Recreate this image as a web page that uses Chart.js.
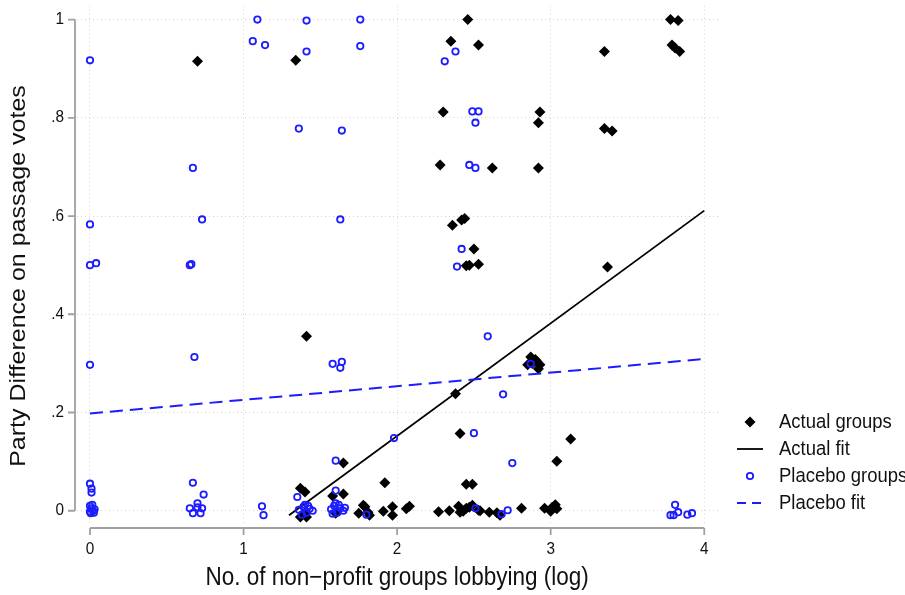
<!DOCTYPE html>
<html>
<head>
<meta charset="utf-8">
<script src="https://cdn.jsdelivr.net/npm/chart.js@4"></script>
<style>
  html, body { margin: 0; padding: 0; background: #fff; }
  #chart { display: block; }
</style>
</head>
<body>
<canvas id="chart" width="905" height="595"></canvas>
<script>
// Actual groups (black diamonds)
const actualX = [0.70, 1.34, 2.46, 2.35, 2.53, 3.35, 3.78, 3.83, 3.79, 3.81, 3.84,
  2.30, 2.93, 2.92, 2.28, 2.62, 2.92, 3.35, 3.40,
  2.36, 2.42, 2.44, 2.50, 2.45, 2.47, 2.53, 3.37,
  2.87, 2.88, 2.91, 2.93, 2.85, 2.92, 2.90,
  1.41, 2.38, 2.41, 3.13, 3.04, 1.92, 2.45, 2.49,
  1.37, 1.40, 1.65, 1.58, 1.65,
  1.37, 1.41, 1.40, 1.60, 1.75, 1.78, 1.82, 1.79, 1.81, 1.91, 1.97, 1.97, 2.06, 2.08,
  2.27, 2.34, 2.40, 2.43, 2.45, 2.41, 2.47, 2.49, 2.53, 2.54, 2.60, 2.65, 2.67,
  2.81, 2.96, 3.01, 3.03, 3.04, 3.00];
const actualY = [0.915, 0.917, 1.000, 0.956, 0.948, 0.935, 1.000, 0.998, 0.948, 0.942, 0.935,
  0.812, 0.812, 0.790, 0.704, 0.698, 0.698, 0.778, 0.773,
  0.581, 0.592, 0.595, 0.533, 0.499, 0.500, 0.502, 0.496,
  0.313, 0.300, 0.304, 0.297, 0.297, 0.289, 0.308,
  0.355, 0.238, 0.157, 0.146, 0.101, 0.057, 0.054, 0.054,
  0.046, 0.038, 0.097, 0.030, 0.034,
  -0.013, -0.013, -0.004, -0.005, -0.005, 0.011, -0.009, 0.008, -0.003, -0.001, 0.008, -0.009, 0.004, 0.009,
  -0.002, 0.000, 0.009, -0.001, 0.005, -0.003, 0.007, 0.011, 0.001, 0.000, -0.003, -0.004, -0.009,
  0.005, 0.005, 0.007, 0.012, 0.004, -0.001];

// Placebo groups (blue hollow circles)
const placeboX = [1.09, 1.41, 1.76, 1.06, 1.14, 1.41, 1.76, 0.00, 1.36, 1.64, 0.67,
  2.38, 2.31, 2.49, 2.53, 2.51, 2.47, 2.51,
  0.00, 0.73, 1.63, 0.00, 0.04, 0.65, 0.66, 0.00, 0.68, 1.58, 1.64, 1.63,
  2.42, 2.39, 2.59, 2.87, 2.69, 2.50, 2.75, 1.98,
  1.80, 2.51, 2.68, 2.72, 3.78, 3.81, 3.83, 3.80, 3.89, 3.92,
  0.00, 0.01, 0.01, 0.67, 0.74, 0.65, 0.70, 0.73, 0.67, 0.72, 0.70,
  1.12, 1.13, 1.60, 1.35, 1.60,
  0.00, 0.01, 0.02, 0.005, 0.03, 0.015, 0.025, 0.00,
  1.36, 1.39, 1.41, 1.43, 1.45, 1.40, 1.38, 1.42,
  1.57, 1.59, 1.61, 1.63, 1.65, 1.60, 1.58, 1.62, 1.66];
const placeboY = [1.000, 0.998, 1.000, 0.956, 0.948, 0.935, 0.946, 0.917, 0.778, 0.774, 0.698,
  0.935, 0.915, 0.813, 0.813, 0.790, 0.704, 0.698,
  0.583, 0.593, 0.593, 0.500, 0.504, 0.500, 0.502, 0.297, 0.313, 0.299, 0.303, 0.291,
  0.533, 0.497, 0.355, 0.299, 0.237, 0.158, 0.097, 0.148,
  -0.008, 0.005, -0.007, 0.001, -0.009, 0.012, -0.003, -0.009, -0.008, -0.005,
  0.055, 0.045, 0.037, 0.057, 0.033, 0.005, 0.007, 0.005, -0.005, -0.005, 0.015,
  0.009, -0.009, 0.102, 0.028, 0.041,
  0.010, 0.005, 0.000, -0.005, 0.003, 0.012, -0.004, -0.002,
  0.002, 0.008, -0.004, 0.004, 0.000, 0.012, -0.008, 0.010,
  0.003, 0.010, -0.004, 0.005, 0.000, 0.015, -0.006, 0.012, 0.006];

// Linear fit end points
const actualFitX = [1.296, 4.0];
const actualFitY = [-0.009, 0.611];
const placeboFitX = [0.0, 4.0];
const placeboFitY = [0.198, 0.309];

const xTicks = [0, 1, 2, 3, 4];
const xTickLabels = ['0', '1', '2', '3', '4'];
const yTicks = [0, 0.2, 0.4, 0.6, 0.8, 1];
const yTickLabels = ['0', '.2', '.4', '.6', '.8', '1'];

const xTitle = 'No. of non\u2212profit groups lobbying (log)';
const yTitle = 'Party Difference on passage votes';
const legendLabels = ['Actual groups', 'Actual fit', 'Placebo groups', 'Placebo fit'];

const BLUE = '#1c1cff';
const FONT = '"Liberation Sans", Arial, Helvetica, sans-serif';
const SQUEEZE = 0.9; // the source picture is a bit narrower than tall

function zip(xs, ys) {
    return xs.map((x, i) => ({ x: x, y: ys[i] }));
}

function squeezedText(c, text, x, y, align) {
    c.save();
    c.translate(x, y);
    c.scale(SQUEEZE, 1);
    c.textAlign = align;
    c.fillText(text, 0, 0);
    c.restore();
}

// Stata style axes: lines offset from the plot region, only spanning the tick range
const stataAxes = {
    id: 'stataAxes',
    afterDraw(chart) {
        const c = chart.ctx;
        const xs = chart.scales.x, ys = chart.scales.y;
        const area = chart.chartArea;
        c.save();
        c.strokeStyle = '#a0a0a0';
        c.lineWidth = 1.8;
        // y axis
        const ax = area.left - 2;
        c.beginPath();
        c.moveTo(ax, ys.getPixelForValue(0));
        c.lineTo(ax, ys.getPixelForValue(1));
        yTicks.forEach(v => {
            const p = ys.getPixelForValue(v);
            c.moveTo(ax, p);
            c.lineTo(ax - 7, p);
        });
        c.stroke();
        // x axis
        const ay = area.bottom + 4;
        c.beginPath();
        c.moveTo(xs.getPixelForValue(0), ay);
        c.lineTo(xs.getPixelForValue(4), ay);
        xTicks.forEach(v => {
            const p = xs.getPixelForValue(v);
            c.moveTo(p, ay);
            c.lineTo(p, ay + 7);
        });
        c.stroke();

        // tick labels
        c.fillStyle = '#111';
        c.textBaseline = 'middle';
        c.font = '17px ' + FONT;
        yTicks.forEach((v, i) => squeezedText(c, yTickLabels[i], ax - 11, ys.getPixelForValue(v), 'right'));
        xTicks.forEach((v, i) => squeezedText(c, xTickLabels[i], xs.getPixelForValue(v), ay + 21, 'center'));

        // axis titles
        c.font = '25px ' + FONT;
        squeezedText(c, xTitle, (xs.getPixelForValue(0) + xs.getPixelForValue(4)) / 2, 578, 'center');
        c.save();
        c.translate(19, 276);
        c.rotate(-Math.PI / 2);
        c.scale(1, SQUEEZE);
        c.textAlign = 'center';
        c.fillText(yTitle, 0, 0);
        c.restore();

        // legend
        const lx = 750, tx = 779;
        const rows = [422, 449, 476, 503];
        c.font = '20.5px ' + FONT;
        legendLabels.forEach((t, i) => squeezedText(c, t, tx, rows[i], 'left'));
        // diamond
        c.fillStyle = '#000';
        c.beginPath();
        c.moveTo(lx, rows[0] - 5.5);
        c.lineTo(lx + 5.5, rows[0]);
        c.lineTo(lx, rows[0] + 5.5);
        c.lineTo(lx - 5.5, rows[0]);
        c.closePath();
        c.fill();
        // solid line
        c.strokeStyle = '#000';
        c.lineWidth = 1.8;
        c.beginPath();
        c.moveTo(737, rows[1]);
        c.lineTo(763, rows[1]);
        c.stroke();
        // circle
        c.strokeStyle = BLUE;
        c.lineWidth = 1.8;
        c.beginPath();
        c.arc(lx, rows[2], 3.2, 0, Math.PI * 2);
        c.stroke();
        // dashed line
        c.lineWidth = 2;
        c.setLineDash([9, 6]);
        c.beginPath();
        c.moveTo(737, rows[3]);
        c.lineTo(765, rows[3]);
        c.stroke();
        c.restore();
    }
};

const ctx = document.getElementById('chart').getContext('2d');
const chart = new Chart(ctx, {
    type: 'scatter',
    data: {
        datasets: [{
            label: legendLabels[0],
            data: zip(actualX, actualY),
            pointStyle: 'rectRot',
            pointRadius: 5.5,
            backgroundColor: '#000',
            borderColor: '#000',
            borderWidth: 0,
            order: 4
        }, {
            label: legendLabels[1],
            type: 'line',
            data: zip(actualFitX, actualFitY),
            borderColor: '#000',
            borderWidth: 1.8,
            pointRadius: 0,
            fill: false,
            order: 3
        }, {
            label: legendLabels[2],
            data: zip(placeboX, placeboY),
            pointStyle: 'circle',
            pointRadius: 3.2,
            backgroundColor: 'rgba(0,0,0,0)',
            borderColor: BLUE,
            borderWidth: 1.8,
            order: 2
        }, {
            label: legendLabels[3],
            type: 'line',
            data: zip(placeboFitX, placeboFitY),
            borderColor: BLUE,
            borderWidth: 2,
            borderDash: [13, 7],
            pointRadius: 0,
            fill: false,
            order: 1
        }]
    },
    options: {
        responsive: false,
        animation: false,
        layout: { padding: { left: 0, right: 184, top: 0, bottom: 0 } },
        plugins: {
            legend: { display: false },
            tooltip: { enabled: false }
        },
        scales: {
            x: {
                type: 'linear',
                min: -0.0846,
                max: 4.109,
                afterBuildTicks: s => { s.ticks = xTicks.map(v => ({ value: v })); },
                afterFit: s => { s.height = 71; },
                grid: { color: '#d4d4d4', lineWidth: 1, drawTicks: false },
                border: { display: false, dash: [1, 3] },
                ticks: { display: false }
            },
            y: {
                type: 'linear',
                min: -0.027,
                max: 1.028,
                afterBuildTicks: s => { s.ticks = yTicks.map(v => ({ value: v })); },
                afterFit: s => { s.width = 77; },
                grid: { color: '#d4d4d4', lineWidth: 1, drawTicks: false },
                border: { display: false, dash: [1, 3] },
                ticks: { display: false }
            }
        }
    },
    plugins: [stataAxes]
});
</script>
</body>
</html>
